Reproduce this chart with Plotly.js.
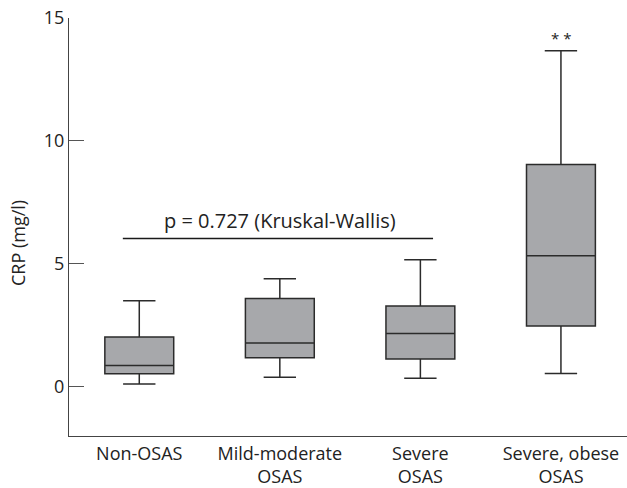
<!DOCTYPE html>
<html>
<head>
<meta charset="utf-8">
<script src="https://cdn.plot.ly/plotly-3.0.1.min.js"></script>
<style>html,body{margin:0;padding:0;background:#fff;}#chart{width:627px;height:488px;}</style>
</head>
<body>
<div id="chart"></div>
<script>
const categories = ["Non-OSAS", "Mild-moderate<br>OSAS", "Severe<br>OSAS", "Severe, obese<br>OSAS"];
const lowerWhisker = [0.11, 0.39, 0.35, 0.54];
const q1 = [0.53, 1.18, 1.13, 2.47];
const median = [0.87, 1.78, 2.17, 5.33];
const q3 = [2.03, 3.59, 3.29, 9.04];
const upperWhisker = [3.5, 4.4, 5.17, 13.67];
const yTicks = [0, 5, 10, 15];
const pText = "p = 0.727 (Kruskal-Wallis)";
const pLineY = 6.03;
const pLineX = [-0.117, 2.09];
const sigText = "* *";

const font = "Open Sans, DejaVu Sans, sans-serif";

const trace = {
  type: "box",
  x: categories,
  q1: q1,
  median: median,
  q3: q3,
  lowerfence: lowerWhisker,
  upperfence: upperWhisker,
  fillcolor: "#a7a8ab",
  line: {color: "#2b2b2b", width: 1.5},
  width: 0.49,
  whiskerwidth: 0.47,
  boxpoints: false,
  hoverinfo: "skip",
  showlegend: false
};

const pLine = {
  type: "scatter",
  mode: "lines",
  x: pLineX,
  y: [pLineY, pLineY],
  xaxis: "x2",
  line: {color: "#1a1a1a", width: 1.5},
  hoverinfo: "skip",
  showlegend: false
};

const layout = {
  width: 627, height: 488,
  margin: {l: 69, r: 0, t: 18, b: 52},
  paper_bgcolor: "#fff", plot_bgcolor: "#fff",
  font: {family: font, size: 18, color: "#222"},
  xaxis: {
    type: "category",
    range: [-0.5, 3.47],
    showgrid: false, zeroline: false,
    showline: true, linecolor: "#444", linewidth: 1,
    ticks: "", tickfont: {size: 18, color: "#222"},
    ticklabelstandoff: 1
  },
  xaxis2: {
    overlaying: "x", range: [-0.5, 3.47], visible: false
  },
  yaxis: {
    range: [-2, 15],
    tickvals: yTicks,
    showgrid: false, zeroline: false,
    showline: true, linecolor: "#444", linewidth: 1,
    ticks: "inside", ticklen: 15, tickcolor: "#555", tickwidth: 1,
    tickfont: {size: 18, color: "#222"}
  },
  annotations: [
    {text: pText, x: 1.0, y: 0.5, xref: "x2", yref: "paper", xanchor: "center", yanchor: "middle", showarrow: false, font: {size: 20, color: "#222"}},
    {text: sigText, x: 3, y: upperWhisker[3], xref: "x2", yref: "y", yanchor: "bottom", yshift: 1, showarrow: false, font: {size: 15, color: "#222"}},
    {text: "CRP (mg/l)", textangle: -90, x: -0.0914, y: 5.85, xref: "paper", yref: "y", xanchor: "center", yanchor: "middle", showarrow: false, font: {size: 18, color: "#222"}}
  ]
};
// plot area spans 18..436 px; p text centre at pixel y=220
layout.annotations[0].y = (436 - 220) / (436 - 18);

Plotly.newPlot("chart", [trace, pLine], layout, {staticPlot: true});
</script>
</body>
</html>
